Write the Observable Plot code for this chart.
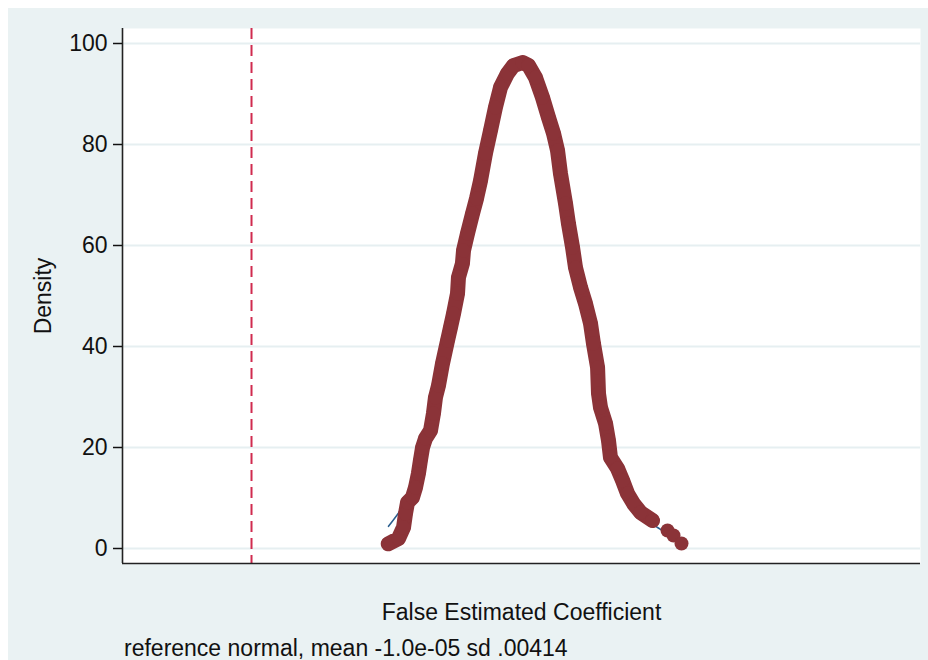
<!DOCTYPE html>
<html>
<head>
<meta charset="utf-8">
<script src="https://cdn.jsdelivr.net/npm/d3@7"></script>
<script src="https://cdn.jsdelivr.net/npm/@observablehq/plot@0.6"></script>
<style>
  html, body { margin: 0; padding: 0; background: #ffffff; }
  #bg { position: absolute; left: 8px; top: 8px; width: 920px; height: 652px; background: #eaf2f3; }
  #chart { position: absolute; left: 0; top: 0; }
  #caption { position: absolute; left: 124px; top: 635px; font-family: "Liberation Sans", Arial, sans-serif; font-size: 23px; color: #111; white-space: nowrap; line-height: 26px; }
</style>
</head>
<body>
<div id="bg"></div>
<div id="chart"></div>
<div id="caption">reference normal, mean -1.0e-05 sd .00414</div>
<script>
// Scale extents and ticks
const xDomain = [-0.03, 0.03];
const yDomain = [-2.97, 102.97];
const yTicks = [0, 20, 40, 60, 80, 100];
const trueCoef = -0.0203;
const yLabel = "Density";
const xLabel = "False Estimated Coefficient";

// Kernel density estimate (markers)
const kdeX = [-0.01002,-0.00925,-0.00887,-0.00872,-0.00857,-0.00820,-0.00797,-0.00775,-0.00760,-0.00744,
  -0.00722,-0.00684,-0.00662,-0.00647,-0.00624,-0.00594,-0.00556,-0.00534,-0.00511,-0.00481,
  -0.00474,-0.00444,-0.00436,-0.00406,-0.00368,-0.00338,-0.00308,-0.00271,-0.00233,-0.00196,
  -0.00158,-0.00105,-0.00060,0.00008,0.00053,0.00105,0.00158,0.00203,0.00241,0.00271,
  0.00293,0.00331,0.00353,0.00384,0.00406,0.00444,0.00481,0.00519,0.00541,0.00572,
  0.00579,0.00594,0.00632,0.00654,0.00669,0.00722,0.00760,0.00797,0.00842,0.00895,
  0.00985,0.01098,0.01143,0.01203];
const kdeY = [0.93,1.98,4.16,6.93,9.11,10.10,12.08,14.85,17.43,20.0,
  21.78,23.37,26.73,29.90,32.28,36.63,41.19,43.76,46.53,50.50,
  53.66,56.44,59.01,62.38,66.34,69.31,72.87,78.22,82.77,87.33,
  91.29,94.06,95.64,96.24,95.64,93.27,89.31,85.35,82.18,78.81,
  74.26,68.32,64.36,59.60,55.64,51.68,48.51,44.55,40.59,35.84,
  30.69,27.92,24.75,21.39,18.02,15.84,13.47,10.89,8.91,7.13,
  5.54,3.56,2.57,0.99];

// Reference normal density (thin line, mostly hidden)
const normX = [-0.010,-0.009,-0.008,-0.007,-0.006,-0.005,-0.004,-0.003,-0.002,-0.001,0.000,
  0.001,0.002,0.003,0.004,0.005,0.006,0.007,0.008,0.009,0.010,0.011,0.012];
const normY = [4.4,8.0,13.0,22.0,35.0,47.0,62.0,74.0,86.0,94.0,96.0,
  93.5,85.5,73.5,60.0,47.0,28.0,17.0,11.0,7.2,4.6,3.0,1.5];

const kde = kdeX.map((x, i) => ({x, y: kdeY[i]}));
const kdeBody = kde.filter(d => d.x <= 0.0099);
const norm = normX.map((x, i) => ({x, y: normY[i]}));

const markerColor = "#8b3338";
const font = "'Liberation Sans', Arial, sans-serif";

const chart = Plot.plot({
  width: 928,
  height: 630,
  marginLeft: 122,
  marginRight: 8,
  marginTop: 28,
  marginBottom: 67,
  style: { background: "transparent", fontFamily: font, color: "#111", overflow: "visible" },
  x: { domain: xDomain, axis: null, label: null },
  y: { domain: yDomain, label: null },
  marks: [
    Plot.frame({ fill: "white", stroke: null }),
    Plot.gridY(yTicks, { stroke: "#e6eff1", strokeOpacity: 1, strokeWidth: 2 }),
    Plot.ruleX([trueCoef], { stroke: "#d02b4f", strokeWidth: 2, strokeDasharray: "11,6" }),
    Plot.line(norm, { x: "x", y: "y", stroke: "#2b5f8f", strokeWidth: 1.6, curve: "catmull-rom" }),
    Plot.line(kdeBody, { x: "x", y: "y", stroke: markerColor, strokeWidth: 15, strokeLinejoin: "round", strokeLinecap: "round" }),
    Plot.dot(kde, { x: "x", y: "y", r: 7, fill: markerColor, stroke: null }),
    Plot.ruleX([xDomain[0]], { stroke: "#222", strokeWidth: 1.6 }),
    Plot.ruleY([yDomain[0]], { stroke: "#222", strokeWidth: 1.6 }),
    Plot.axisY(yTicks, { tickSize: 9, tickPadding: 6, fontSize: 23, strokeWidth: 1.5, label: null }),
    Plot.text([yLabel], { frameAnchor: "left", dx: -79, rotate: -90, fontSize: 23, textAnchor: "middle", lineAnchor: "middle", fill: "#111" }),
    Plot.text([xLabel], { frameAnchor: "bottom", dy: 49, fontSize: 23, textAnchor: "middle", lineAnchor: "middle", fill: "#111" })
  ]
});
document.getElementById("chart").appendChild(chart);
</script>
</body>
</html>
